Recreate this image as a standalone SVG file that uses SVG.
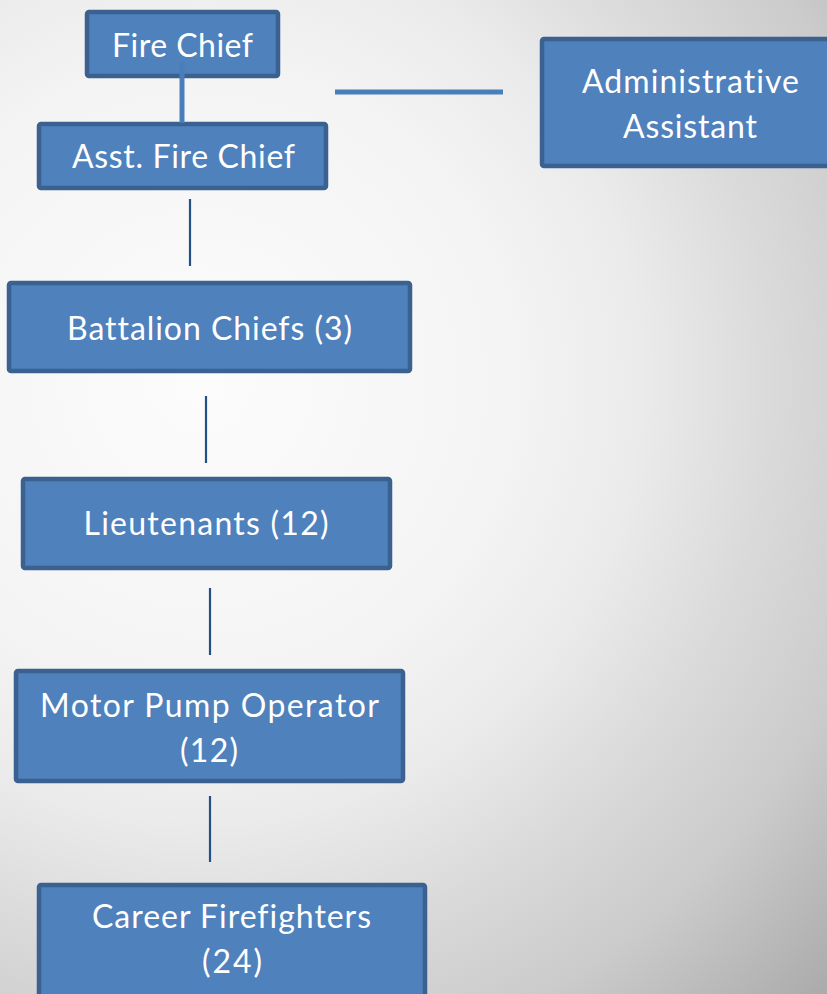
<svg xmlns="http://www.w3.org/2000/svg" width="827" height="994" viewBox="0 0 827 994">
  <defs>
    <radialGradient id="bg" gradientUnits="userSpaceOnUse" cx="200" cy="380" r="880">
      <stop offset="0" stop-color="#fcfcfc"/>
      <stop offset="0.35" stop-color="#f4f4f4"/>
      <stop offset="0.5" stop-color="#ebebeb"/>
      <stop offset="0.65" stop-color="#dadada"/>
      <stop offset="0.8" stop-color="#cbcbcb"/>
      <stop offset="1" stop-color="#aaaaaa"/>
    </radialGradient>
  </defs>
  <style>
    .box { fill: #4f81bd; stroke: #3b6190; stroke-width: 4.5; }
    .lbl { font-family: Lato, "Liberation Sans", sans-serif; font-size: 32px; fill: #ffffff; text-anchor: middle; font-variant-ligatures: none; font-feature-settings: "liga" 0, "dlig" 0; }
    .thick { stroke: #4a7ebb; stroke-width: 5; fill: none; }
    .thin { stroke: #254f87; stroke-width: 2.2; fill: none; }
  </style>
  <rect x="0" y="0" width="827" height="994" fill="url(#bg)"/>

  <g id="fire-chief">
    <rect class="box" x="87" y="12" width="191" height="64" rx="2"/>
    <text class="lbl" x="182.5" y="57" textLength="141">Fire Chief</text>
  </g>
  <g id="asst-fire-chief">
    <rect class="box" x="39" y="124" width="287" height="64" rx="2"/>
    <text class="lbl" x="183.5" y="168" textLength="223">Asst. Fire Chief</text>
  </g>
  <g id="admin-assistant">
    <rect class="box" x="542" y="39" width="296" height="127" rx="2"/>
    <text class="lbl" x="690.5" y="93" textLength="217">Administrative</text>
    <text class="lbl" x="690" y="138" textLength="134">Assistant</text>
  </g>
  <g id="battalion-chiefs">
    <rect class="box" x="9" y="283" width="401" height="88" rx="2"/>
    <text class="lbl" x="209.5" y="340" textLength="285">Battalion Chiefs (3)</text>
  </g>
  <g id="lieutenants">
    <rect class="box" x="23" y="479" width="367" height="89" rx="2"/>
    <text class="lbl" x="206" y="535" textLength="245">Lieutenants (12)</text>
  </g>
  <g id="motor-pump-operator">
    <rect class="box" x="16" y="671" width="387" height="110" rx="2"/>
    <text class="lbl" x="209.5" y="717" textLength="339">Motor Pump Operator</text>
    <text class="lbl" x="209" y="762" textLength="58">(12)</text>
  </g>
  <g id="career-firefighters">
    <rect class="box" x="39" y="885" width="386" height="120" rx="2"/>
    <text class="lbl" x="231.5" y="928" textLength="279">Career Firefighters</text>
    <text class="lbl" x="232" y="973" textLength="60">(24)</text>
  </g>

  <g id="connectors">
    <line class="thick" x1="182" y1="62" x2="182" y2="123"/>
    <line class="thick" x1="335" y1="92" x2="503" y2="92"/>
    <line class="thin" x1="190" y1="199" x2="190" y2="266"/>
    <line class="thin" x1="206" y1="396" x2="206" y2="463"/>
    <line class="thin" x1="210" y1="588" x2="210" y2="655"/>
    <line class="thin" x1="210" y1="796" x2="210" y2="862"/>
  </g>
</svg>
